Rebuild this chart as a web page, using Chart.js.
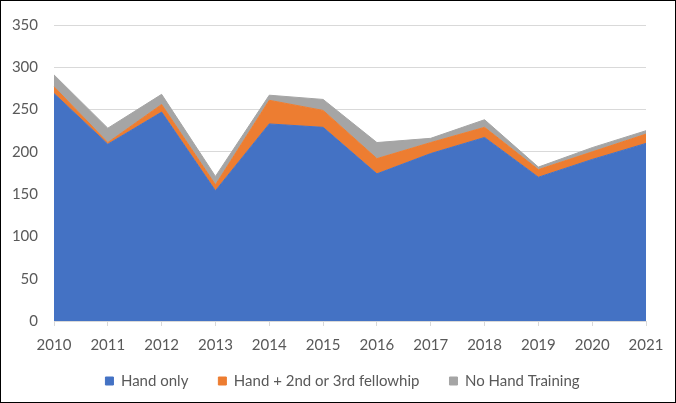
<!DOCTYPE html>
<html>
<head>
<meta charset="utf-8">
<script src="https://cdn.jsdelivr.net/npm/chart.js@4"></script>
<style>
  html, body { margin: 0; padding: 0; background: #fff; }
  #wrap { position: relative; width: 676px; height: 403px; }
  #wrap canvas { position: absolute; left: 0; top: 0; }
  #frame { position: absolute; left: 0; top: 0; width: 676px; height: 403px; box-sizing: border-box; border: 1px solid #000; pointer-events: none; }
</style>
</head>
<body>
<div id="wrap">
  <canvas id="c" width="676" height="403"></canvas>
  <div id="frame"></div>
</div>
<script>
const years = ["2010","2011","2012","2013","2014","2015","2016","2017","2018","2019","2020","2021"];
const handOnly = [269, 209, 247, 154, 233, 229, 174, 198, 217, 170, 191, 210];
const handPlusFellowship = [8, 2, 9, 7, 28, 20, 18, 13, 12, 9, 9, 11];
const noHandTraining = [14, 17, 12, 10, 6, 13, 19, 5, 9, 3, 5, 4];
const seriesNames = ["Hand only", "Hand + 2nd or 3rd fellowhip", "No Hand Training"];
const yTicks = [0, 50, 100, 150, 200, 250, 300, 350];

const colors = ["#4472C4", "#ED7D31", "#A5A5A5"];
const font = { family: "Lato", size: 15 };
const textColor = "#595959";

const mk = (label, data, color, fill) => ({
  label, data,
  backgroundColor: color,
  borderColor: color,
  borderWidth: 1,
  pointRadius: 0,
  pointHoverRadius: 0,
  tension: 0,
  fill
});

// place the legend box where the reference has it
const legendPlace = {
  id: "legendPlace",
  afterLayout(chart) {
    const lg = chart.legend;
    if (!lg) return;
    const h = lg.height;
    lg.left = 39;
    lg.right = 646;
    lg.width = lg.right - lg.left;
    lg.top = 343.5;
    lg.bottom = lg.top + h;
  }
};

new Chart(document.getElementById("c"), {
  type: "line",
  data: {
    labels: years,
    datasets: [
      mk(seriesNames[0], handOnly, colors[0], "origin"),
      mk(seriesNames[1], handPlusFellowship, colors[1], "-1"),
      mk(seriesNames[2], noHandTraining, colors[2], "-1")
    ]
  },
  plugins: [legendPlace],
  options: {
    responsive: false,
    animation: false,
    layout: { padding: { left: 0, right: 30, top: 19, bottom: -6 } },
    plugins: {
      tooltip: { enabled: false },
      legend: {
        position: "bottom",
        labels: {
          boxWidth: 8,
          boxHeight: 8,
          padding: 30,
          color: textColor,
          font
        }
      }
    },
    scales: {
      x: {
        offset: false,
        grid: { drawOnChartArea: false, drawTicks: true, tickLength: 5, color: "#d9d9d9" },
        border: { display: true, color: "#d9d9d9" },
        ticks: { color: textColor, font, padding: 10, maxRotation: 0, autoSkip: false },
        afterFit: s => { s.height = 33; }
      },
      y: {
        stacked: true,
        min: 0,
        max: 350,
        afterBuildTicks: s => { s.ticks = yTicks.map(v => ({ value: v })); },
        grid: { color: "#d9d9d9", drawTicks: false },
        border: { display: false },
        ticks: { color: textColor, font, padding: 16 },
        afterFit: s => { s.width = 54; }
      }
    }
  }
});
</script>
</body>
</html>
